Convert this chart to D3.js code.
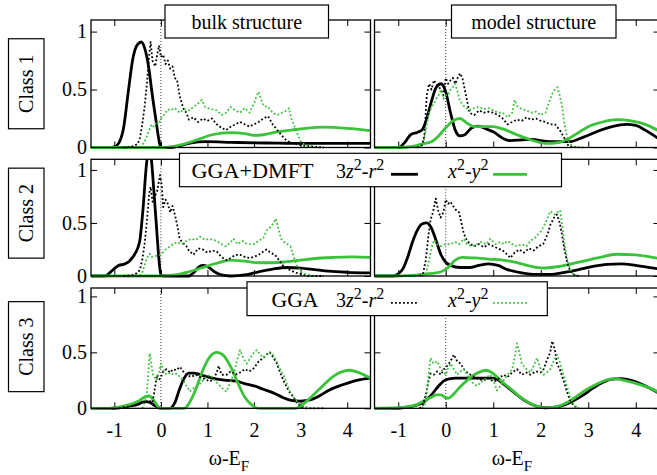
<!DOCTYPE html>
<html>
<head>
<meta charset="utf-8">
<script src="https://cdn.jsdelivr.net/npm/d3@7"></script>
<style>
  body { margin: 0; background: #fff; }
  svg { display: block; }
  svg text { font-family: "Liberation Serif", "Times New Roman", serif; }
</style>
</head>
<body>
<svg id="chart" width="657" height="475"></svg>
<script>
// ---- axis / labels ----
const xTicks = [-1, 0, 1, 2, 3, 4];
const yTicks = [0, 0.5, 1];
const rowLabels = ['Class 1', 'Class 2', 'Class 3'];
const colTitles = ['bulk structure', 'model structure'];

// ---- Class 1, bulk ----
const bulk1DmftZ = [[-1.5,0],[-1.1,0],[-1.0,0.005],[-0.9,0.04],[-0.8,0.17],[-0.7,0.48],[-0.6,0.77],[-0.5,0.89],[-0.42,0.91],[-0.35,0.86],[-0.25,0.66],[-0.2,0.5],[-0.1,0.22],[-0.03,0.04],[0,0],[0.2,0],[0.4,0.015],[0.6,0.035],[0.8,0.048],[1.0,0.05],[1.5,0.045],[2.0,0.04],[2.5,0.038],[3.0,0.035],[3.5,0.035],[4.0,0.035],[4.5,0.035]];
const bulk1DmftX = [[-1.5,0],[0,0],[0.2,0.005],[0.5,0.03],[0.8,0.07],[1.1,0.11],[1.5,0.128],[1.8,0.12],[2.0,0.105],[2.2,0.11],[2.5,0.135],[2.8,0.15],[3.1,0.165],[3.5,0.175],[4.0,0.165],[4.5,0.145]];
const bulk1GgaZ = [[-0.8,0],[-0.6,0.01],[-0.5,0.03],[-0.45,0.08],[-0.4,0.2],[-0.35,0.35],[-0.3,0.55],[-0.25,0.8],[-0.22,0.91],[-0.18,0.75],[-0.12,0.7],[-0.08,0.8],[-0.04,0.88],[0,0.78],[0.05,0.8],[0.1,0.72],[0.15,0.75],[0.2,0.68],[0.25,0.7],[0.3,0.6],[0.35,0.58],[0.4,0.45],[0.45,0.38],[0.5,0.32],[0.55,0.3],[0.6,0.24],[0.7,0.26],[0.8,0.22],[0.9,0.25],[1.0,0.23],[1.1,0.25],[1.2,0.2],[1.3,0.17],[1.4,0.15],[1.5,0.18],[1.6,0.2],[1.7,0.22],[1.8,0.2],[1.9,0.18],[2.0,0.2],[2.1,0.22],[2.2,0.25],[2.3,0.27],[2.4,0.2],[2.5,0.15],[2.6,0.1],[2.7,0.06],[2.8,0.04],[2.9,0.03],[3.0,0.02],[3.2,0.01],[3.5,0]];
const bulk1GgaX = [[-0.45,0],[-0.4,0.02],[-0.35,0.05],[-0.3,0.1],[-0.25,0.15],[-0.2,0.2],[-0.15,0.18],[-0.1,0.22],[-0.05,0.2],[0,0.25],[0.05,0.27],[0.1,0.3],[0.15,0.33],[0.2,0.32],[0.3,0.34],[0.4,0.3],[0.5,0.33],[0.6,0.32],[0.7,0.35],[0.8,0.38],[0.88,0.41],[0.95,0.35],[1.0,0.34],[1.1,0.33],[1.2,0.32],[1.3,0.28],[1.4,0.3],[1.5,0.35],[1.6,0.32],[1.7,0.3],[1.8,0.34],[1.9,0.3],[2.0,0.38],[2.05,0.44],[2.1,0.48],[2.15,0.42],[2.2,0.36],[2.3,0.35],[2.4,0.3],[2.5,0.28],[2.6,0.3],[2.7,0.32],[2.75,0.34],[2.8,0.25],[2.9,0.15],[2.95,0.1],[3.0,0.05],[3.1,0.02],[3.2,0.01],[3.4,0]];

// ---- Class 1, model ----
const model1DmftZ = [[-1.5,0],[-1.0,0],[-0.85,0.05],[-0.74,0.11],[-0.6,0.13],[-0.5,0.15],[-0.4,0.25],[-0.3,0.4],[-0.2,0.52],[-0.1,0.55],[0,0.48],[0.1,0.3],[0.2,0.15],[0.3,0.1],[0.4,0.11],[0.55,0.17],[0.68,0.185],[0.85,0.16],[1.0,0.135],[1.2,0.08],[1.35,0.06],[1.6,0.065],[1.8,0.07],[2.2,0.05],[2.6,0.05],[2.9,0.09],[3.2,0.14],[3.5,0.18],[3.8,0.2],[4.0,0.19],[4.2,0.15],[4.5,0.07]];
const model1DmftX = [[-1.5,0],[-1.0,0],[-0.7,0.01],[-0.5,0.03],[-0.3,0.05],[-0.15,0.1],[0,0.17],[0.15,0.23],[0.3,0.25],[0.45,0.21],[0.6,0.18],[0.8,0.18],[1.0,0.18],[1.2,0.16],[1.5,0.11],[1.8,0.065],[2.1,0.035],[2.4,0.045],[2.6,0.08],[2.8,0.13],[3.0,0.18],[3.3,0.22],[3.6,0.24],[3.9,0.23],[4.2,0.2],[4.5,0.14]];
const model1GgaZ = [[-0.6,0],[-0.5,0.02],[-0.45,0.1],[-0.4,0.45],[-0.35,0.55],[-0.3,0.5],[-0.25,0.58],[-0.2,0.55],[-0.1,0.5],[-0.05,0.45],[0,0.6],[0.05,0.55],[0.1,0.58],[0.15,0.6],[0.2,0.55],[0.25,0.6],[0.3,0.64],[0.35,0.6],[0.4,0.5],[0.45,0.4],[0.5,0.3],[0.6,0.28],[0.7,0.32],[0.8,0.3],[0.9,0.31],[1.0,0.3],[1.1,0.28],[1.2,0.25],[1.3,0.2],[1.4,0.22],[1.5,0.24],[1.6,0.23],[1.7,0.26],[1.8,0.24],[1.9,0.25],[2.0,0.23],[2.1,0.22],[2.2,0.2],[2.3,0.2],[2.4,0.15],[2.5,0.08],[2.55,0.03],[2.6,0.01],[2.8,0]];
const model1GgaX = [[-0.55,0],[-0.5,0.02],[-0.45,0.08],[-0.4,0.2],[-0.35,0.3],[-0.3,0.35],[-0.25,0.38],[-0.2,0.42],[-0.15,0.45],[-0.1,0.5],[-0.05,0.42],[0,0.45],[0.05,0.45],[0.1,0.5],[0.15,0.52],[0.2,0.55],[0.25,0.48],[0.3,0.4],[0.4,0.35],[0.5,0.32],[0.6,0.34],[0.7,0.35],[0.8,0.33],[0.9,0.34],[1.0,0.32],[1.1,0.3],[1.2,0.3],[1.3,0.26],[1.4,0.3],[1.45,0.41],[1.5,0.36],[1.6,0.33],[1.7,0.32],[1.8,0.3],[1.9,0.31],[2.0,0.28],[2.1,0.3],[2.2,0.42],[2.25,0.47],[2.3,0.5],[2.35,0.52],[2.4,0.45],[2.45,0.35],[2.5,0.2],[2.55,0.1],[2.6,0.03],[2.7,0.01],[2.9,0]];

// ---- Class 2, bulk ----
const bulk2DmftZ = [[-1.5,0],[-1.2,0],[-1.1,0.03],[-1.0,0.07],[-0.9,0.1],[-0.8,0.11],[-0.7,0.13],[-0.6,0.18],[-0.5,0.26],[-0.45,0.34],[-0.38,0.65],[-0.31,1.05],[-0.25,1.2],[-0.2,1.08],[-0.15,0.8],[-0.1,0.5],[-0.05,0.2],[0,0.01],[0.05,0],[0.6,0],[0.7,0.03],[0.8,0.08],[0.9,0.1],[1.0,0.09],[1.15,0.04],[1.3,0.01],[1.5,0],[1.8,0.01],[2.1,0.04],[2.4,0.065],[2.7,0.08],[3.0,0.075],[3.3,0.06],[3.6,0.045],[4.0,0.035],[4.5,0.03]];
const bulk2DmftX = [[-1.5,0],[0,0],[0.3,0.01],[0.6,0.04],[0.9,0.08],[1.2,0.12],[1.5,0.15],[1.8,0.14],[2.1,0.125],[2.4,0.125],[2.7,0.135],[3.0,0.15],[3.3,0.165],[3.7,0.175],[4.1,0.18],[4.5,0.175]];
const bulk2GgaZ = [[-0.8,0],[-0.6,0.01],[-0.5,0.03],[-0.45,0.06],[-0.4,0.15],[-0.35,0.3],[-0.3,0.52],[-0.25,0.78],[-0.22,0.84],[-0.18,0.7],[-0.13,0.75],[-0.08,0.8],[-0.02,0.95],[0.02,0.85],[0.05,0.65],[0.1,0.72],[0.15,0.68],[0.2,0.6],[0.25,0.66],[0.3,0.58],[0.35,0.48],[0.4,0.36],[0.45,0.32],[0.5,0.3],[0.55,0.28],[0.6,0.24],[0.7,0.2],[0.8,0.26],[0.9,0.25],[1.0,0.22],[1.1,0.24],[1.2,0.23],[1.3,0.18],[1.4,0.15],[1.5,0.17],[1.6,0.2],[1.7,0.2],[1.8,0.18],[1.9,0.17],[2.0,0.18],[2.1,0.2],[2.2,0.23],[2.27,0.25],[2.35,0.22],[2.45,0.2],[2.55,0.14],[2.65,0.08],[2.8,0.05],[2.9,0.03],[3.0,0.02],[3.15,0],[3.5,0]];
const bulk2GgaX = [[-0.45,0],[-0.4,0.03],[-0.35,0.1],[-0.3,0.17],[-0.24,0.21],[-0.2,0.18],[-0.1,0.19],[0,0.2],[0.1,0.25],[0.2,0.28],[0.26,0.3],[0.35,0.32],[0.45,0.3],[0.55,0.33],[0.65,0.35],[0.75,0.34],[0.84,0.37],[0.95,0.34],[1.05,0.35],[1.2,0.33],[1.3,0.3],[1.4,0.28],[1.5,0.32],[1.56,0.35],[1.65,0.3],[1.75,0.33],[1.85,0.3],[2.0,0.3],[2.1,0.33],[2.2,0.36],[2.27,0.43],[2.35,0.46],[2.42,0.5],[2.47,0.54],[2.52,0.45],[2.58,0.35],[2.65,0.32],[2.72,0.3],[2.78,0.28],[2.85,0.18],[2.92,0.1],[3.0,0.04],[3.1,0.02],[3.3,0]];

// ---- Class 2, model ----
const model2DmftZ = [[-1.5,0],[-1.1,0],[-1.0,0.02],[-0.9,0.07],[-0.8,0.18],[-0.7,0.32],[-0.6,0.43],[-0.5,0.49],[-0.4,0.5],[-0.3,0.45],[-0.2,0.33],[-0.1,0.2],[0,0.13],[0.1,0.1],[0.3,0.08],[0.5,0.08],[0.7,0.1],[0.9,0.115],[1.1,0.1],[1.3,0.06],[1.6,0.03],[1.9,0.015],[2.2,0.015],[2.5,0.035],[2.8,0.06],[3.1,0.09],[3.4,0.11],[3.7,0.115],[4.0,0.1],[4.3,0.08],[4.5,0.065]];
const model2DmftX = [[-1.5,0],[-1.0,0],[-0.6,0.01],[-0.3,0.025],[-0.1,0.04],[0.05,0.08],[0.2,0.15],[0.35,0.175],[0.6,0.17],[0.9,0.16],[1.2,0.15],[1.5,0.125],[1.8,0.09],[2.05,0.075],[2.3,0.085],[2.6,0.11],[2.9,0.14],[3.2,0.17],[3.6,0.205],[4.0,0.2],[4.3,0.18],[4.5,0.165]];
const model2GgaZ = [[-0.55,0],[-0.48,0.02],[-0.42,0.15],[-0.36,0.4],[-0.32,0.53],[-0.27,0.6],[-0.21,0.73],[-0.16,0.62],[-0.11,0.55],[-0.05,0.6],[0,0.72],[0.05,0.68],[0.1,0.7],[0.17,0.65],[0.22,0.62],[0.28,0.6],[0.33,0.5],[0.38,0.4],[0.45,0.33],[0.52,0.3],[0.6,0.28],[0.7,0.3],[0.8,0.27],[0.9,0.3],[1.0,0.28],[1.1,0.26],[1.2,0.24],[1.3,0.2],[1.36,0.17],[1.45,0.22],[1.55,0.25],[1.65,0.22],[1.75,0.26],[1.85,0.24],[1.95,0.28],[2.05,0.3],[2.15,0.4],[2.2,0.48],[2.28,0.55],[2.34,0.58],[2.4,0.5],[2.45,0.38],[2.5,0.25],[2.56,0.12],[2.62,0.05],[2.7,0.01],[2.8,0]];
const model2GgaX = [[-0.5,0],[-0.42,0.02],[-0.35,0.15],[-0.28,0.3],[-0.24,0.34],[-0.18,0.3],[-0.1,0.28],[0,0.3],[0.1,0.3],[0.2,0.32],[0.28,0.3],[0.38,0.35],[0.45,0.3],[0.55,0.28],[0.66,0.3],[0.75,0.32],[0.85,0.3],[0.94,0.35],[1.05,0.3],[1.15,0.32],[1.22,0.3],[1.3,0.33],[1.4,0.3],[1.5,0.28],[1.6,0.3],[1.7,0.28],[1.78,0.33],[1.88,0.36],[2.0,0.42],[2.1,0.5],[2.2,0.61],[2.3,0.58],[2.41,0.62],[2.46,0.45],[2.5,0.3],[2.56,0.15],[2.62,0.06],[2.7,0.01],[2.8,0]];

// ---- Class 3, bulk ----
const bulk3DmftZ = [[-1.5,0],[-1.1,0],[-0.9,0.005],[-0.7,0.02],[-0.5,0.035],[-0.35,0.06],[-0.25,0.055],[-0.15,0.03],[-0.05,0.005],[0,0],[0.2,0],[0.3,0.05],[0.4,0.17],[0.5,0.27],[0.6,0.315],[0.7,0.315],[0.85,0.3],[1.0,0.28],[1.2,0.26],[1.4,0.25],[1.6,0.245],[1.8,0.22],[2.0,0.2],[2.2,0.17],[2.4,0.14],[2.6,0.1],[2.8,0.07],[3.0,0.065],[3.2,0.075],[3.4,0.11],[3.6,0.16],[3.9,0.21],[4.2,0.25],[4.5,0.27]];
const bulk3DmftX = [[-1.5,0],[-1.1,0],[-0.9,0.01],[-0.7,0.03],[-0.5,0.06],[-0.35,0.1],[-0.25,0.11],[-0.15,0.07],[-0.05,0.01],[0,0],[0.5,0],[0.6,0.04],[0.75,0.17],[0.9,0.34],[1.05,0.46],[1.2,0.5],[1.35,0.47],[1.5,0.37],[1.65,0.23],[1.8,0.1],[1.95,0.03],[2.1,0],[2.9,0],[3.0,0.02],[3.2,0.09],[3.4,0.17],[3.6,0.25],[3.8,0.31],[4.05,0.34],[4.3,0.31],[4.5,0.27]];
const bulk3GgaZ = [[-0.9,0],[-0.8,0.01],[-0.6,0.02],[-0.45,0.04],[-0.35,0.06],[-0.25,0.07],[-0.18,0.05],[-0.12,0.2],[-0.08,0.3],[-0.03,0.26],[0,0.28],[0.05,0.33],[0.12,0.35],[0.2,0.32],[0.26,0.35],[0.33,0.34],[0.41,0.37],[0.48,0.33],[0.55,0.3],[0.65,0.28],[0.75,0.3],[0.84,0.28],[0.95,0.26],[1.05,0.24],[1.13,0.26],[1.2,0.32],[1.24,0.38],[1.3,0.3],[1.41,0.3],[1.5,0.33],[1.6,0.3],[1.7,0.32],[1.8,0.35],[1.9,0.33],[2.0,0.36],[2.1,0.42],[2.2,0.45],[2.27,0.48],[2.34,0.5],[2.42,0.45],[2.49,0.4],[2.56,0.32],[2.63,0.25],[2.75,0.15],[2.85,0.1],[2.92,0.05],[3.0,0.02],[3.1,0],[3.5,0]];
const bulk3GgaX = [[-0.4,0],[-0.35,0.05],[-0.31,0.1],[-0.27,0.3],[-0.24,0.49],[-0.2,0.38],[-0.17,0.3],[-0.09,0.25],[-0.04,0.32],[0,0.4],[0.05,0.35],[0.12,0.3],[0.2,0.32],[0.27,0.3],[0.34,0.31],[0.41,0.28],[0.48,0.25],[0.55,0.2],[0.62,0.15],[0.7,0.18],[0.77,0.2],[0.84,0.22],[0.95,0.27],[1.05,0.3],[1.15,0.25],[1.27,0.2],[1.34,0.17],[1.41,0.15],[1.48,0.22],[1.56,0.3],[1.63,0.42],[1.7,0.52],[1.77,0.45],[1.84,0.4],[1.92,0.45],[2.0,0.5],[2.06,0.52],[2.13,0.48],[2.2,0.45],[2.3,0.5],[2.41,0.48],[2.48,0.42],[2.56,0.35],[2.65,0.28],[2.72,0.2],[2.77,0.15],[2.85,0.1],[2.92,0.06],[2.99,0.03],[3.1,0.01],[3.3,0]];

// ---- Class 3, model ----
const model3DmftZ = [[-1.5,0],[-1.0,0],[-0.8,0.01],[-0.6,0.03],[-0.45,0.06],[-0.3,0.12],[-0.15,0.2],[0,0.255],[0.2,0.27],[0.5,0.27],[0.8,0.27],[1.0,0.27],[1.15,0.24],[1.3,0.19],[1.5,0.12],[1.7,0.06],[1.9,0.02],[2.1,0.005],[2.3,0.01],[2.5,0.03],[2.7,0.07],[2.9,0.12],[3.1,0.18],[3.3,0.23],[3.5,0.26],[3.7,0.265],[3.9,0.25],[4.1,0.22],[4.3,0.18],[4.5,0.13]];
const model3DmftX = [[-1.5,0],[-1.0,0.005],[-0.8,0.015],[-0.6,0.035],[-0.45,0.07],[-0.3,0.1],[-0.2,0.12],[-0.1,0.12],[0,0.095],[0.05,0.09],[0.15,0.12],[0.3,0.19],[0.45,0.25],[0.6,0.3],[0.75,0.33],[0.85,0.34],[1.0,0.31],[1.15,0.25],[1.35,0.18],[1.6,0.09],[1.85,0.03],[2.05,0.005],[2.3,0.01],[2.5,0.04],[2.7,0.09],[2.9,0.15],[3.1,0.2],[3.3,0.24],[3.55,0.265],[3.8,0.245],[4.1,0.21],[4.3,0.18],[4.5,0.14]];
const model3GgaZ = [[-0.55,0],[-0.48,0.03],[-0.42,0.12],[-0.36,0.25],[-0.32,0.31],[-0.25,0.3],[-0.18,0.33],[-0.1,0.3],[-0.04,0.35],[0.03,0.38],[0.1,0.42],[0.17,0.48],[0.24,0.42],[0.31,0.4],[0.38,0.35],[0.45,0.32],[0.52,0.3],[0.6,0.28],[0.7,0.26],[0.8,0.25],[0.9,0.27],[1.0,0.24],[1.08,0.25],[1.15,0.28],[1.22,0.3],[1.3,0.28],[1.4,0.32],[1.5,0.35],[1.6,0.3],[1.7,0.32],[1.78,0.3],[1.9,0.33],[2.0,0.32],[2.06,0.35],[2.12,0.42],[2.2,0.5],[2.24,0.6],[2.3,0.52],[2.34,0.4],[2.4,0.35],[2.48,0.25],[2.55,0.15],[2.62,0.07],[2.7,0.02],[2.8,0]];
const model3GgaX = [[-0.5,0],[-0.42,0.05],[-0.36,0.3],[-0.32,0.45],[-0.26,0.4],[-0.18,0.42],[-0.1,0.35],[0,0.3],[0.05,0.36],[0.1,0.4],[0.17,0.35],[0.24,0.3],[0.31,0.33],[0.38,0.35],[0.45,0.3],[0.52,0.25],[0.59,0.22],[0.66,0.2],[0.73,0.23],[0.8,0.25],[0.87,0.28],[0.94,0.3],[1.01,0.24],[1.08,0.16],[1.15,0.2],[1.22,0.25],[1.3,0.3],[1.4,0.35],[1.45,0.45],[1.5,0.58],[1.55,0.5],[1.6,0.4],[1.7,0.35],[1.78,0.32],[1.85,0.38],[1.92,0.45],[2.0,0.35],[2.06,0.3],[2.13,0.32],[2.2,0.35],[2.27,0.42],[2.34,0.48],[2.41,0.4],[2.48,0.3],[2.55,0.2],[2.62,0.1],[2.7,0.03],[2.8,0]];

const panelSeries = [
  [[bulk1DmftZ, bulk1DmftX, bulk1GgaZ, bulk1GgaX], [model1DmftZ, model1DmftX, model1GgaZ, model1GgaX]],
  [[bulk2DmftZ, bulk2DmftX, bulk2GgaZ, bulk2GgaX], [model2DmftZ, model2DmftX, model2GgaZ, model2GgaX]],
  [[bulk3DmftZ, bulk3DmftX, bulk3GgaZ, bulk3GgaX], [model3DmftZ, model3DmftX, model3GgaZ, model3GgaX]],
];

// ---- layout ----
const black = '#000';
const green = '#3ac23a';
const font = 20;
const cols = [{ x0: 91, x1: 370.5 }, { x0: 374.5, x1: 659.5 }];
const rows = [
  { y0: 20, y1: 147.5, top: 1.1 },
  { y0: 159.3, y1: 276, top: 1.1 },
  { y0: 288, y1: 408.3, top: 1.075 },
];
const styles = [
  { color: black, width: 2.8, dash: null, curve: d3.curveMonotoneX },
  { color: green, width: 2.8, dash: null, curve: d3.curveMonotoneX },
  { color: black, width: 1.8, dash: '1.8,2.2', curve: d3.curveLinear },
  { color: green, width: 1.8, dash: '1.8,2.2', curve: d3.curveLinear },
];

const svg = d3.select('#chart');
const defs = svg.append('defs');

function styleAxis(g) {
  g.select('.domain').remove();
  g.selectAll('line').attr('stroke', '#000').attr('stroke-width', 1);
  g.attr('font-family', null).attr('font-size', font);
  g.selectAll('text').attr('fill', '#000');
}

rows.forEach((row, r) => {
  cols.forEach((col, c) => {
    const x = d3.scaleLinear().domain([-1.5, 4.5]).range([col.x0, col.x1]);
    const y = d3.scaleLinear().domain([0, row.top]).range([row.y1, row.y0]);
    const g = svg.append('g');
    const clipId = `clip-${r}-${c}`;
    defs.append('clipPath').attr('id', clipId).append('rect')
      .attr('x', col.x0).attr('y', row.y0)
      .attr('width', col.x1 - col.x0).attr('height', row.y1 - row.y0 + 3);

    // E_F marker
    g.append('line')
      .attr('x1', x(0)).attr('x2', x(0)).attr('y1', row.y0).attr('y2', row.y1)
      .attr('stroke', '#000').attr('stroke-width', 0.8).attr('stroke-dasharray', '1,2');

    // ticks on all four sides, labels only on outer edges
    g.append('g').attr('transform', `translate(0,${row.y1})`)
      .call(d3.axisBottom(x).tickValues(xTicks).tickSize(-6).tickPadding(14.5)
        .tickFormat(d => r === 2 ? String(d) : ''))
      .call(styleAxis);
    g.append('g').attr('transform', `translate(0,${row.y0})`)
      .call(d3.axisTop(x).tickValues(xTicks).tickSize(-6).tickFormat(''))
      .call(styleAxis);
    g.append('g').attr('transform', `translate(${col.x0},0)`)
      .call(d3.axisLeft(y).tickValues(yTicks).tickSize(-6).tickPadding(4)
        .tickFormat(d => c === 0 ? String(d) : ''))
      .call(styleAxis);
    g.append('g').attr('transform', `translate(${col.x1},0)`)
      .call(d3.axisRight(y).tickValues(yTicks).tickSize(-6).tickFormat(''))
      .call(styleAxis);

    const lines = g.append('g').attr('clip-path', `url(#${clipId})`);
    panelSeries[r][c].forEach((data, i) => {
      const s = styles[i];
      lines.append('path')
        .datum(data)
        .attr('fill', 'none')
        .attr('stroke', s.color)
        .attr('stroke-width', s.width)
        .attr('stroke-dasharray', s.dash)
        .attr('stroke-linejoin', 'round')
        .attr('d', d3.line().x(d => x(d[0])).y(d => y(d[1])).curve(s.curve));
    });

    g.append('rect')
      .attr('x', col.x0).attr('y', row.y0)
      .attr('width', col.x1 - col.x0).attr('height', row.y1 - row.y0)
      .attr('fill', 'none').attr('stroke', '#000').attr('stroke-width', 1.3);
  });

  // row label box
  const cy = (row.y0 + row.y1) / 2 + [0, -4.5, -1.5][r];
  svg.append('rect').attr('x', 8.5).attr('y', cy - 45).attr('width', 35.5).attr('height', 90)
    .attr('fill', '#fff').attr('stroke', '#000').attr('stroke-width', 1.2);
  svg.append('text').attr('transform', `translate(33,${cy}) rotate(-90)`)
    .attr('text-anchor', 'middle').attr('font-size', font).text(rowLabels[r]);
});

// x axis titles
[229, 512].forEach(cx => {
  const t = svg.append('text').attr('x', cx).attr('y', 465).attr('text-anchor', 'middle').attr('font-size', font);
  t.append('tspan').text('ω-E');
  t.append('tspan').attr('dy', 6).attr('font-size', 15).text('F');
});

// column titles
const titleBoxes = [{ x: 165, w: 163.5 }, { x: 451.5, w: 164.5 }];
titleBoxes.forEach((b, i) => {
  svg.append('rect').attr('x', b.x).attr('y', 5).attr('width', b.w).attr('height', 33)
    .attr('fill', '#fff').attr('stroke', '#000').attr('stroke-width', 1.2);
  svg.append('text').attr('x', b.x + b.w / 2).attr('y', 28.5).attr('text-anchor', 'middle')
    .attr('font-size', font).text(colTitles[i]);
});

// legends
function orbital(sel, x, y, base, ital) {
  const t = sel.append('text').attr('x', x).attr('y', y).attr('font-size', font);
  if (base) t.append('tspan').text(base);
  t.append('tspan').attr('font-style', 'italic').text(ital[0]);
  t.append('tspan').attr('dy', -8).attr('font-size', 16).text('2');
  t.append('tspan').attr('dy', 8).text('-');
  t.append('tspan').attr('font-style', 'italic').text(ital[1]);
  t.append('tspan').attr('dy', -8).attr('font-size', 16).text('2');
  return t;
}
const legends = [
  { x: 179.5, y: 153.3, w: 382, h: 33.4, title: 'GGA+DMFT', tx: 191.5, tw: 122, dash: null, width: 2.8 },
  { x: 247, y: 281.8, w: 300.3, h: 33.8, title: 'GGA', tx: 271.5, tw: 47, dash: '1.8,2.2', width: 1.8 },
];
legends.forEach(L => {
  const g = svg.append('g');
  g.append('rect').attr('x', L.x).attr('y', L.y).attr('width', L.w).attr('height', L.h)
    .attr('fill', '#fff').attr('stroke', '#000').attr('stroke-width', 1.2);
  const base = L.y + 25;
  g.append('text').attr('x', L.tx).attr('y', base).attr('font-size', 21)
    .attr('textLength', L.tw).attr('lengthAdjust', 'spacingAndGlyphs').text(L.title);
  orbital(g, 336, base, '3', ['z', 'r']);
  orbital(g, 448, base, '', ['x', 'y']);
  const ly = L.y + 21;
  [[391, 418, black], [493, 527, green]].forEach(([a, b, col]) => {
    g.append('line').attr('x1', a).attr('x2', b).attr('y1', ly).attr('y2', ly)
      .attr('stroke', col).attr('stroke-width', L.width).attr('stroke-dasharray', L.dash);
  });
});
</script>
</body>
</html>
